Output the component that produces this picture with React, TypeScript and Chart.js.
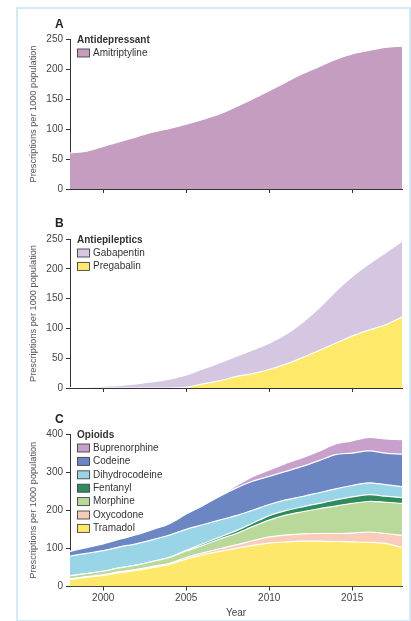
import React, { useEffect, useRef } from 'react';
import { Chart, registerables } from 'chart.js';

Chart.register(...registerables);

const FONT = '"Liberation Sans", Arial, sans-serif';
Chart.defaults.font.family = FONT;

// ---- data ----
const years = [1998, 1999, 2000, 2001, 2002, 2003, 2004, 2005, 2006, 2007, 2008, 2009, 2010, 2011, 2012, 2013, 2014, 2015, 2016, 2017, 2018];
const xTickYears = [2000, 2005, 2010, 2015];

const amitriptyline = [60, 63, 71, 79, 87, 95, 101, 108, 116, 125, 137, 150, 164, 178, 192, 204, 216, 225, 231, 236, 238];

const pregabalin = [0, 0, 0, 0, 0, 0, 0, 1, 7, 12, 19, 24, 31, 40, 51, 63, 75, 87, 97, 106, 119];
const gabapentin = [0.5, 1.5, 3, 4.5, 7, 10.5, 15, 21, 25, 30, 34, 40, 44, 50, 59, 71, 87, 100, 111, 121, 127];

const tramadol = [18, 24, 29, 36, 42, 50, 58, 72, 83, 92, 100, 108, 114, 117, 119, 119, 118, 117, 116, 113, 102];
const oxycodone = [2, 2, 2, 3, 3, 3, 3, 4, 5, 7, 9, 12, 16, 18, 19, 20, 21, 23, 27, 26, 32];
const morphine = [8, 8, 9, 10, 11, 13, 15, 17, 20, 25, 30, 37, 44, 52, 58, 65, 72, 78, 80, 82, 84];
const fentanyl = [0, 0, 0, 0, 0, 0, 1, 2, 4, 5, 7, 9, 12, 12, 13, 14, 16, 17, 18, 16, 15];
const dihydrocodeine = [52, 53, 54, 55, 56, 57, 58, 55, 50, 45, 40, 34, 29, 28, 27, 28, 29, 30, 31, 30, 29];
const codeine = [12, 15, 18, 20, 24, 27, 30, 40, 50, 62, 72, 76, 74, 75, 79, 84, 90, 85, 84, 83, 85];
const buprenorphine = [0, 0, 0, 0, 0, 0, 0, 0, 0, 1, 6, 12, 17, 21, 23, 25, 28, 32, 35, 37, 38];

type Series = { label: string; data: number[]; color: string };

const panelA: Series[] = [
  { label: 'Amitriptyline', data: amitriptyline, color: '#c59dc1' },
];
const panelB: Series[] = [
  { label: 'Pregabalin', data: pregabalin, color: '#fee96b' },
  { label: 'Gabapentin', data: gabapentin, color: '#d5c6e2' },
];
const panelC: Series[] = [
  { label: 'Tramadol', data: tramadol, color: '#fee86c' },
  { label: 'Oxycodone', data: oxycodone, color: '#f9cbbb' },
  { label: 'Morphine', data: morphine, color: '#b9d99a' },
  { label: 'Fentanyl', data: fentanyl, color: '#2f8a5c' },
  { label: 'Dihydrocodeine', data: dihydrocodeine, color: '#99d5e7' },
  { label: 'Codeine', data: codeine, color: '#6b86c2' },
  { label: 'Buprenorphine', data: buprenorphine, color: '#c8a0cc' },
];

const decorPlugin = {
  id: 'decor',
  afterDraw(chart: any, _args: any, opts: any) {
    const { ctx, chartArea } = chart;
    ctx.save();
    ctx.fillStyle = '#222';
    ctx.textAlign = 'left';
    ctx.textBaseline = 'alphabetic';
    ctx.font = `bold 12px ${FONT}`;
    ctx.fillText(opts.letter, chartArea.left - 15, chartArea.top + opts.letterDy);

    const x0 = chartArea.left + 7;
    ctx.textBaseline = 'middle';
    ctx.font = `bold 10px ${FONT}`;
    ctx.fillStyle = '#333';
    ctx.fillText(opts.title, x0, chartArea.top + 1);
    const ds = chart.data.datasets.slice().reverse();
    ds.forEach((d: any, i: number) => {
      const cy = chartArea.top + 14 + i * 13.4;
      ctx.fillStyle = d.backgroundColor;
      ctx.fillRect(x0 + 0.5, cy - 4, 12, 8);
      ctx.strokeStyle = '#444';
      ctx.lineWidth = 0.9;
      ctx.strokeRect(x0 + 0.5, cy - 4, 12, 8);
      ctx.fillStyle = '#333';
      ctx.font = `10px ${FONT}`;
      ctx.fillText(d.label, x0 + 16, cy);
    });
    ctx.restore();
  },
};

type PanelProps = {
  series: Series[];
  top: number;
  height: number;
  padTop: number;
  xHeight: number;
  padBottom: number;
  yMax: number;
  yStep: number;
  letter: string;
  letterDy: number;
  title: string;
  showXLabels: boolean;
};

function Panel(p: PanelProps) {
  const ref = useRef<HTMLCanvasElement | null>(null);
  useEffect(() => {
    if (!ref.current) return;
    const chart = new Chart(ref.current, {
      type: 'line',
      data: {
        datasets: p.series.map((s, i) => ({
          label: s.label,
          data: years.map((y, j) => ({ x: y, y: s.data[j] })),
          backgroundColor: s.color,
          borderColor: '#ffffff',
          borderWidth: 1.2,
          fill: i === 0 ? 'origin' : '-1',
          pointRadius: 0,
          tension: 0.3,
        })),
      },
      options: {
        animation: false,
        responsive: false,
        events: [],
        layout: { padding: { left: 28, right: 9, top: p.padTop, bottom: p.padBottom } },
        plugins: {
          legend: { display: false },
          tooltip: { enabled: false },
          decor: { letter: p.letter, letterDy: p.letterDy, title: p.title },
        } as any,
        scales: {
          x: {
            type: 'linear',
            min: 1998,
            max: 2018,
            z: 1,
            afterBuildTicks: (axis: any) => {
              axis.ticks = xTickYears.map((v) => ({ value: v }));
            },
            afterFit: (axis: any) => {
              axis.height = p.xHeight;
            },
            ticks: {
              display: p.showXLabels,
              padding: 2,
              color: '#444',
              font: { size: 10 },
              callback: (v: any) => String(v),
              maxRotation: 0,
            },
            grid: { drawOnChartArea: false, drawTicks: true, tickLength: 4, color: '#333' },
            border: { display: true, color: '#333', width: 1 },
            title: {
              display: p.showXLabels,
              text: 'Year',
              color: '#444',
              font: { size: 10 },
              padding: 0,
            },
          },
          y: {
            type: 'linear',
            stacked: true,
            min: 0,
            max: p.yMax,
            z: 1,
            afterFit: (axis: any) => {
              axis.width = 42;
            },
            ticks: { stepSize: p.yStep, padding: 3, color: '#444', font: { size: 10 } },
            grid: { drawOnChartArea: false, drawTicks: true, tickLength: 4, color: '#333' },
            border: { display: true, color: '#333', width: 1 },
            title: {
              display: true,
              text: 'Prescriptions per 1000 population',
              color: '#555',
              font: { size: 9.2 },
              padding: 0,
            },
          },
        },
      } as any,
      plugins: [decorPlugin as any],
    });
    return () => chart.destroy();
  }, []);
  return (
    <canvas
      ref={ref}
      width={411}
      height={p.height}
      style={{ position: 'absolute', left: 0, top: p.top, width: 411, height: p.height }}
    />
  );
}

export default function App() {
  return (
    <div style={{ position: 'fixed', left: 0, top: 0, width: 411, height: 621, background: '#fff', overflow: 'hidden' }}>
      <div
        style={{
          position: 'absolute',
          left: 16,
          top: 7,
          width: 395,
          height: 615,
          border: '2px solid #d2ebf4',
          boxSizing: 'border-box',
        }}
      />
      <Panel series={panelA} top={0} height={200} padTop={39} xHeight={11} padBottom={0}
        yMax={250} yStep={50} letter="A" letterDy={-11} title="Antidepressant" showXLabels={false} />
      <Panel series={panelB} top={200} height={200} padTop={39} xHeight={12} padBottom={0}
        yMax={250} yStep={50} letter="B" letterDy={-12} title="Antiepileptics" showXLabels={false} />
      <Panel series={panelC} top={400} height={221} padTop={34} xHeight={32.5} padBottom={2}
        yMax={400} yStep={100} letter="C" letterDy={-11} title="Opioids" showXLabels={true} />
    </div>
  );
}
